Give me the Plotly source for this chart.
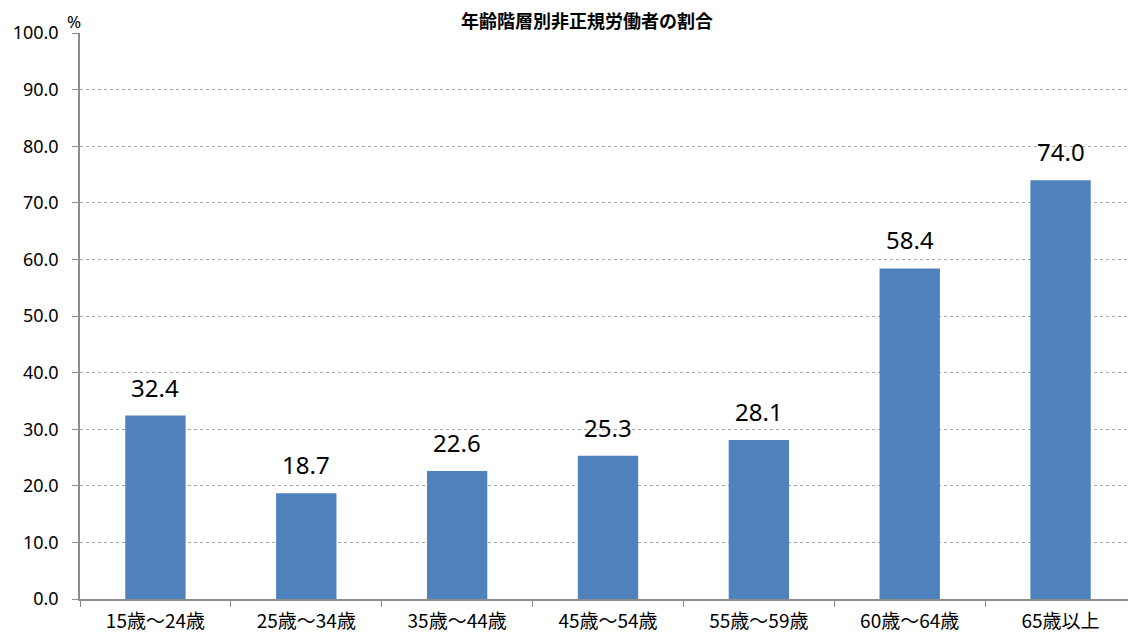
import plotly.graph_objects as go

categories = ["15歳～24歳", "25歳～34歳", "35歳～44歳", "45歳～54歳", "55歳～59歳", "60歳～64歳", "65歳以上"]
values = [32.4, 18.7, 22.6, 25.3, 28.1, 58.4, 74.0]
title_text = "年齢階層別非正規労働者の割合"

fig = go.Figure(go.Bar(
    x=categories, y=values,
    marker=dict(color="#4F81BD", line=dict(width=0)),
    cliponaxis=False,
    hoverinfo="x+y",
))

# data labels above bars
for c, v in zip(categories, values):
    fig.add_annotation(x=c, y=v, text=f"{v:.1f}", showarrow=False, yanchor="bottom",
                       yshift=10, font=dict(size=24, color="#000", family="Noto Sans, sans-serif"))

# page body has an 8px margin: figure is sized to end at the window edge
fig.update_layout(
    width=1128, height=627,
    margin=dict(l=72, r=0, t=25, b=36),
    paper_bgcolor="white", plot_bgcolor="white",
    bargap=0.6,
    showlegend=False,
    font=dict(family="Noto Sans CJK JP", color="#000"),
)
fig.update_yaxes(
    range=[0, 100], dtick=10, tickformat=".1f",
    showgrid=True, gridcolor="#a8a8a8", griddash="dot", gridwidth=1,
    showline=True, linecolor="#8c8c8c", linewidth=1.5,
    ticks="outside", ticklen=6, tickcolor="#8c8c8c",
    tickfont=dict(size=18, family="Noto Sans, sans-serif", color="#000"),
    ticklabelstandoff=10,
    zeroline=False,
)
fig.update_xaxes(
    showline=True, linecolor="#8c8c8c", linewidth=1.5,
    ticks="outside", ticklen=6, tickcolor="#8c8c8c", tickson="boundaries",
    tickfont=dict(size=19, family="Noto Sans CJK JP", color="#000"),
    ticklabelstandoff=4,
)
fig.add_annotation(text="<b>" + title_text + "</b>", xref="paper", yref="paper", x=0.48, y=1.0,
                   yanchor="bottom", xanchor="center", yshift=-2, showarrow=False,
                   font=dict(size=18, family="Noto Sans CJK JP", color="#000"))
fig.add_annotation(text="%", xref="paper", yref="paper", x=0, y=1.0, yanchor="bottom",
                   xanchor="center", xshift=-6, yshift=-2, showarrow=False,
                   font=dict(size=17, family="Noto Sans, sans-serif", color="#000"))

fig.write_html("out.html")
